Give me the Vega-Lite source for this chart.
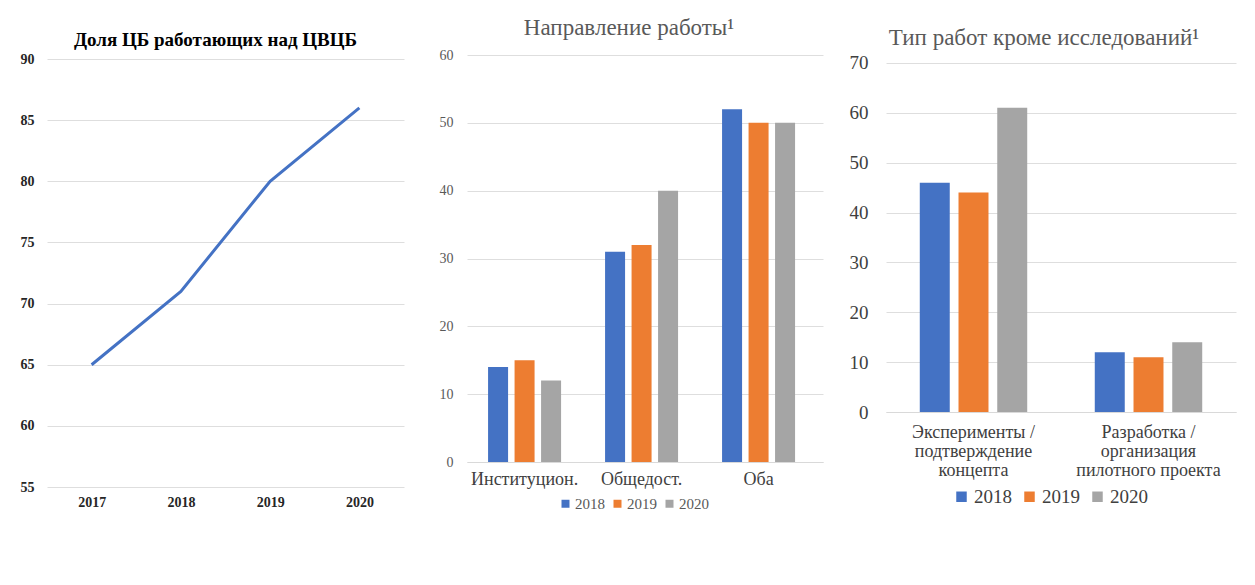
{
  "$schema": "https://vega.github.io/schema/vega-lite/v6.json",
  "background": "white",
  "padding": {"left": 20, "top": 17, "right": 5, "bottom": 5},
  "config": {
    "view": {"stroke": null},
    "font": "Liberation Serif",
    "title": {"font": "Liberation Serif"},
    "axis": {"labelFont": "Liberation Serif", "gridColor": "#dedede", "ticks": false, "title": null},
    "legend": {"labelFont": "Liberation Serif"}
  },
  "bounds": "flush",
  "spacing": 63,
  "resolve": {"scale": {"color": "independent", "xOffset": "independent"}, "legend": {"color": "independent"}},
  "hconcat": [
    {
      "width": 357,
      "height": 432,
      "title": {"text": "Доля ЦБ работающих над ЦВЦБ", "font": "Liberation Serif", "fontSize": 19, "fontWeight": "bold", "color": "#000000", "offset": 2, "dx": -10},
      "data": {
        "values": [
          {"year": "2017", "share": 65},
          {"year": "2018", "share": 71},
          {"year": "2019", "share": 80},
          {"year": "2020", "share": 86}
        ]
      },
      "mark": {"type": "line", "color": "#4472C4", "strokeWidth": 3},
      "encoding": {
        "x": {
          "field": "year",
          "type": "ordinal",
          "scale": {"type": "point", "padding": 0.5},
          "axis": {"labelAngle": 0, "domain": false, "labelFont": "Liberation Serif", "labelFontSize": 14, "labelFontWeight": "bold", "labelColor": "#262626", "labelPadding": 8}
        },
        "y": {
          "field": "share",
          "type": "quantitative",
          "scale": {"domain": [55, 90.33], "nice": false, "zero": false},
          "axis": {"values": [55, 60, 65, 70, 75, 80, 85, 90], "domain": false, "labelFont": "Liberation Serif", "labelFontSize": 14, "labelFontWeight": "bold", "labelColor": "#262626", "labelPadding": 13}
        }
      }
    },
    {
      "width": 356,
      "height": 407,
      "title": {"text": "Направление работы¹", "font": "Liberation Serif", "fontSize": 23, "fontWeight": "normal", "color": "#595959", "offset": 8, "dx": -16},
      "data": {
        "values": [
          {"cat": "Институцион.", "year": "2018", "value": 14},
          {"cat": "Институцион.", "year": "2019", "value": 15},
          {"cat": "Институцион.", "year": "2020", "value": 12},
          {"cat": "Общедост.", "year": "2018", "value": 31},
          {"cat": "Общедост.", "year": "2019", "value": 32},
          {"cat": "Общедост.", "year": "2020", "value": 40},
          {"cat": "Оба", "year": "2018", "value": 52},
          {"cat": "Оба", "year": "2019", "value": 50},
          {"cat": "Оба", "year": "2020", "value": 50}
        ]
      },
      "mark": {"type": "bar"},
      "encoding": {
        "x": {
          "field": "cat",
          "type": "nominal",
          "sort": null,
          "scale": {"paddingInner": 0.376, "paddingOuter": 0.2094, "align": 0.43},
          "axis": {"labelAngle": 0, "domainColor": "#d9d9d9", "labelFont": "Liberation Serif", "labelFontSize": 18, "labelColor": "#404040", "labelPadding": 8}
        },
        "xOffset": {"field": "year", "type": "nominal", "scale": {"paddingInner": 0.245}},
        "y": {
          "field": "value",
          "type": "quantitative",
          "scale": {"domain": [0, 60]},
          "axis": {"values": [0, 10, 20, 30, 40, 50, 60], "domain": false, "labelFont": "Liberation Serif", "labelFontSize": 14, "labelColor": "#595959", "labelPadding": 14}
        },
        "color": {
          "field": "year",
          "type": "nominal",
          "scale": {"domain": ["2018", "2019", "2020"], "range": ["#4472C4", "#ED7D31", "#A5A5A5"]},
          "legend": {"orient": "none", "legendX": 91, "legendY": 441, "direction": "horizontal", "title": null, "symbolType": "square", "symbolSize": 64, "symbolStrokeWidth": 0, "labelFont": "Liberation Serif", "labelFontSize": 15, "labelColor": "#595959", "columnPadding": 5, "labelOffset": 2}
        }
      }
    },
    {
      "width": 350,
      "height": 357,
      "title": {"text": "Тип работ кроме исследований¹", "font": "Liberation Serif", "fontSize": 23, "fontWeight": "normal", "color": "#595959", "offset": 4, "dx": -17},
      "data": {
        "values": [
          {"cat": "Эксперименты /|подтверждение|концепта", "year": "2018", "value": 46},
          {"cat": "Эксперименты /|подтверждение|концепта", "year": "2019", "value": 44},
          {"cat": "Эксперименты /|подтверждение|концепта", "year": "2020", "value": 61},
          {"cat": "Разработка /|организация|пилотного проекта", "year": "2018", "value": 12},
          {"cat": "Разработка /|организация|пилотного проекта", "year": "2019", "value": 11},
          {"cat": "Разработка /|организация|пилотного проекта", "year": "2020", "value": 14}
        ]
      },
      "mark": {"type": "bar"},
      "encoding": {
        "x": {
          "field": "cat",
          "type": "nominal",
          "sort": null,
          "scale": {"paddingInner": 0.386, "paddingOuter": 0.193},
          "axis": {"labelAngle": 0, "domainColor": "#d9d9d9", "labelExpr": "split(datum.label, '|')", "labelFont": "Liberation Serif", "labelFontSize": 18, "labelColor": "#404040", "labelLineHeight": 19, "labelPadding": 11}
        },
        "xOffset": {"field": "year", "type": "nominal", "scale": {"paddingInner": 0.226}},
        "y": {
          "field": "value",
          "type": "quantitative",
          "scale": {"domain": [0, 71.6], "nice": false},
          "axis": {"values": [0, 10, 20, 30, 40, 50, 60, 70], "domain": false, "labelFont": "Liberation Serif", "labelFontSize": 19, "labelColor": "#404040", "labelPadding": 18}
        },
        "color": {
          "field": "year",
          "type": "nominal",
          "scale": {"domain": ["2018", "2019", "2020"], "range": ["#4472C4", "#ED7D31", "#A5A5A5"]},
          "legend": {"orient": "none", "legendX": 66, "legendY": 432, "direction": "horizontal", "title": null, "symbolType": "square", "symbolSize": 110, "symbolStrokeWidth": 0, "labelFont": "Liberation Serif", "labelFontSize": 19, "labelColor": "#404040", "columnPadding": 8, "labelOffset": 3}
        }
      }
    }
  ]
}
